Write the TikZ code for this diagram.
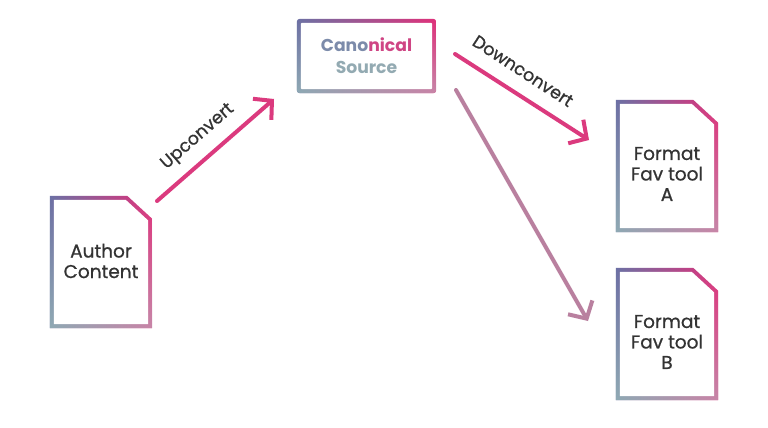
\documentclass[tikz,border=0pt]{standalone}
\usepackage{fontspec}
\setmainfont{Poppins}
\newfontfamily\medfont{Poppins}[FakeBold=0.8]
\usetikzlibrary{arrows.meta,calc,fadings}
\definecolor{cUL}{HTML}{6C70A4}
\definecolor{cUR}{HTML}{E0307A}
\definecolor{cLL}{HTML}{8FAAB4}
\definecolor{cLR}{HTML}{C886A8}
\definecolor{txt}{HTML}{333333}
\definecolor{arr}{HTML}{DB3A7E}
\definecolor{arrb}{HTML}{B9809F}
\definecolor{canA}{HTML}{7C8BAA}
\definecolor{canB}{HTML}{CF4584}
\definecolor{src}{HTML}{93AAB2}
\tikzfading[name=fadebottom, top color=transparent!100, bottom color=transparent!0]
\tikzset{
  frame/.style={minimum width=102pt, minimum height=132pt, inner sep=0pt},
  doctext/.style={align=center, text=txt, font=\medfont\fontsize{18.5}{20.5}\selectfont, inner sep=0pt},
  canbox/.style={minimum width=139pt, minimum height=74pt, inner sep=0pt, align=center,
    font=\bfseries\fontsize{17.2}{22}\selectfont},
  lbl/.style={text=txt, font=\medfont\fontsize{17.5}{18}\selectfont, inner sep=0pt},
  conn/.style={line width=4pt, line cap=round, arr, -{Straight Barb[length=13pt,width=28pt]}},
  gtop/.style={left color=cUL, right color=cUR},
  gbot/.style={left color=cLL, right color=cLR, path fading=fadebottom},
}
\newcommand\docpath{}
\newcommand\docshape[1]{%
  \def\docpath{(#1.south west) -- (#1.north west) -- ($(#1.north east)+(-25,0)$)
    -- ($(#1.north east)+(0,23)$) -- (#1.south east) -- cycle}%
  \shade[gtop] \docpath;
  \shade[gbot] \docpath;
  \fill[white] ($(#1.south west)+(4,-4)$) -- ($(#1.north west)+(4,4)$) -- ($(#1.north east)+(-26.5,4)$)
    -- ($(#1.north east)+(-4,24.7)$) -- ($(#1.south east)+(-4,-4)$) -- cycle;
}
\begin{document}
\begin{tikzpicture}[x=1pt,y=-1pt]
\fill[white] (0,0) rectangle (768,428);
\useasboundingbox (0,0) rectangle (768,428);

% canonical source box
\node[canbox] (canon) at (366.5,56) {};
\shade[gtop, rounded corners=3pt] (canon.south west) rectangle (canon.north east);
\shade[gbot, rounded corners=3pt] (canon.south west) rectangle (canon.north east);
\fill[white, rounded corners=1pt] ($(canon.south west)+(4,-4)$) rectangle ($(canon.north east)+(-4,4)$);
\node[canbox] (canontext) at (canon.center) {\textcolor{canA}{Cano}\textcolor{canB}{nical}\\\textcolor{src}{Source}};

% documents
\node[frame] (author) at (101,262) {};
\node[frame] (favA) at (667,166) {};
\node[frame] (favB) at (667,334) {};
\docshape{author}
\docshape{favA}
\docshape{favB}
\node[doctext] (authortext) at ($(author.center)+(0,-1)$) {Author\\Content};
\node[doctext] (favAtext) at ($(favA.center)+(0,8)$) {Format\\Fav tool\\A};
\node[doctext] (favBtext) at ($(favB.center)+(0,8)$) {Format\\Fav tool\\B};

% connectors
\coordinate (u1) at (157,201);
\coordinate (u2) at (274,99);
\coordinate (d1) at (455,54);
\coordinate (d2) at (589,140);
\coordinate (b1) at (456,90);
\coordinate (b2) at (588,321);
\draw[conn] (u1) -- (u2);
\draw[conn] (d1) -- (d2);
\draw[conn, arrb] (b1) -- (b2);

\node[lbl, rotate=41] (uplbl) at (198,137) {Upconvert};
\node[lbl, rotate=-33] (downlbl) at (523,71) {Downconvert};
\end{tikzpicture}
\end{document}
